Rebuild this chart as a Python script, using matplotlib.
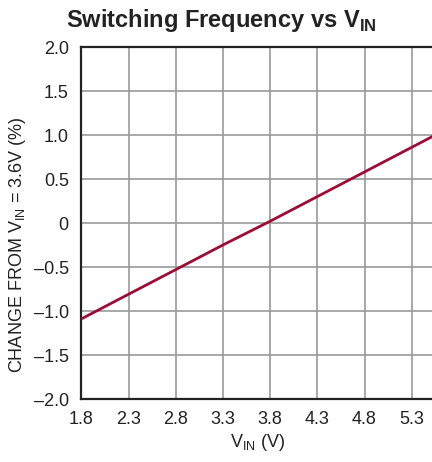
import numpy as np
import matplotlib
matplotlib.use('Agg')
import matplotlib.pyplot as plt

# values
vin = [1.8, 2.3, 2.8, 3.3, 3.8, 4.3, 4.8, 5.3, 5.55]
change = [-1.09, -0.81, -0.53, -0.25, 0.02, 0.30, 0.58, 0.86, 1.0]
xticks = [1.8, 2.3, 2.8, 3.3, 3.8, 4.3, 4.8, 5.3]
yticks = [2.0, 1.5, 1.0, 0.5, 0.0, -0.5, -1.0, -1.5, -2.0]
ytick_labels = ['2.0', '1.5', '1.0', '0.5', '0', '\u20130.5', '\u20131.0', '\u20131.5', '\u20132.0']

fam = ['Liberation Sans Narrow', 'Liberation Sans', 'DejaVu Sans']
plt.rcParams['font.family'] = fam
plt.rcParams['mathtext.fontset'] = 'custom'
plt.rcParams['mathtext.rm'] = 'Liberation Sans'
plt.rcParams['mathtext.bf'] = 'Liberation Sans:bold'

fig = plt.figure(figsize=(4.32, 4.62), dpi=100)
ax = fig.add_axes([81.3 / 432, 63 / 462, 377.6 / 432, 352 / 462])

ax.plot(vin, change, color='#9e0b36', lw=2.0, solid_capstyle='butt', zorder=3)

ax.set_xlim(1.8, 5.8)
ax.set_ylim(-2.0, 2.0)
ax.set_xticks(xticks)
ax.set_xticklabels([f'{t:.1f}' for t in xticks])
ax.set_yticks(yticks)
ax.set_yticklabels(ytick_labels)
ax.grid(True, color='#9a9a9a', lw=1.2)
ax.tick_params(length=0, labelsize=13, pad=9, colors='#222222')
for s in ax.spines.values():
    s.set_color('#222222')
    s.set_linewidth(1.6)

fig.text(221 / 432, 1 - 27 / 462, r'Switching Frequency vs V$_{\mathbf{IN}}$',
         ha='center', va='baseline', fontsize=17, fontweight='bold', color='#222222')
fig.text(258 / 432, 1 - 447 / 462, r'V$_{\mathrm{IN}}$ (V)',
         ha='center', va='baseline', fontsize=13, color='#222222')
fig.text(18 / 432, 1 - 245 / 462, r'CHANGE FROM V$_{\mathrm{IN}}$ = 3.6V (%)',
         ha='center', va='center', rotation=90, fontsize=13, color='#222222')

fig.savefig('out.png', dpi=100)
